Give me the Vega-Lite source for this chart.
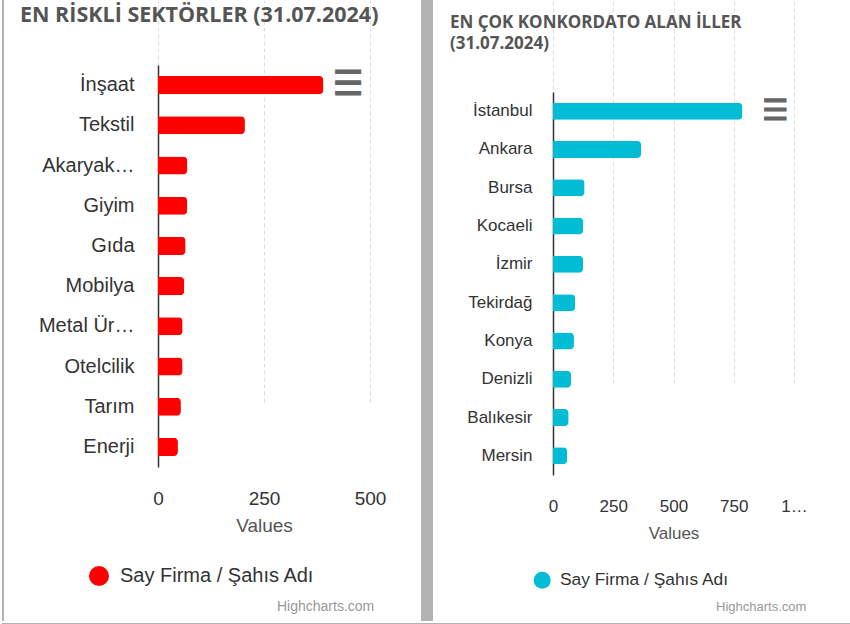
{
  "$schema": "https://vega.github.io/schema/vega-lite/v6.json",
  "padding": 0,
  "background": "white",
  "config": {"view": {"stroke": null}, "font": "Liberation Sans"},
  "spacing": 0,
  "vconcat": [
    {
      "spacing": 14,
      "resolve": {"scale": {"x": "independent", "y": "independent", "color": "independent", "shape": "independent"}, "legend": {"color": "independent", "shape": "independent"}},
      "hconcat": [
        {"width": 2, "height": 621, "data": {"values": [{}]}, "mark": {"type": "point", "opacity": 0}, "encoding": {}, "view": {"fill": "#b3b3b3", "stroke": null}},
        {
          "spacing": 35,
          "resolve": {"scale": {"x": "independent", "y": "independent", "color": "independent", "shape": "independent"}, "legend": {"color": "independent", "shape": "independent"}},
          "hconcat": [
            {
              "width": 212,
              "height": 467,
              "title": {"text": "EN RİSKLİ SEKTÖRLER (31.07.2024)", "anchor": "start", "frame": "group", "dx": -138, "font": "Open Sans", "fontSize": 21.5, "fontWeight": "bold", "color": "#555555", "offset": -26},
              "resolve": {"scale": {"color": "independent", "shape": "independent"}},
              "layer": [
                {
                  "data": {"values": [
                    {"sektor": "İnşaat", "deger": 390, "seri": "Say Firma / Şahıs Adı"},
                    {"sektor": "Tekstil", "deger": 205, "seri": "Say Firma / Şahıs Adı"},
                    {"sektor": "Akaryak…", "deger": 69, "seri": "Say Firma / Şahıs Adı"},
                    {"sektor": "Giyim", "deger": 69, "seri": "Say Firma / Şahıs Adı"},
                    {"sektor": "Gıda", "deger": 65, "seri": "Say Firma / Şahıs Adı"},
                    {"sektor": "Mobilya", "deger": 62, "seri": "Say Firma / Şahıs Adı"},
                    {"sektor": "Metal Ür…", "deger": 58, "seri": "Say Firma / Şahıs Adı"},
                    {"sektor": "Otelcilik", "deger": 58, "seri": "Say Firma / Şahıs Adı"},
                    {"sektor": "Tarım", "deger": 54, "seri": "Say Firma / Şahıs Adı"},
                    {"sektor": "Enerji", "deger": 47, "seri": "Say Firma / Şahıs Adı"}
                  ]},
                  "mark": {"type": "bar", "cornerRadiusEnd": 4},
                  "encoding": {
                    "y": {"field": "sektor", "type": "nominal", "sort": null, "scale": {"range": [65, 467], "paddingInner": 0.55, "paddingOuter": 0.275},
                      "axis": {"title": null, "domain": true, "domainColor": "#333333", "domainWidth": 1.5, "ticks": false, "grid": false, "labelFont": "Liberation Sans", "labelFontSize": 20, "labelColor": "#333333", "labelPadding": 24, "labelLimit": 300}},
                    "x": {"field": "deger", "type": "quantitative", "scale": {"domain": [0, 500], "nice": false},
                      "axis": {"title": "Values", "values": [0, 250, 500], "domain": false, "ticks": false, "grid": true, "gridDash": [4, 3], "gridColor": "#dddddd", "labelFont": "Liberation Sans", "labelFontSize": 19, "labelColor": "#333333", "labelPadding": 22, "labelFlush": false, "titleFont": "Liberation Sans", "titleFontSize": 19, "titleFontWeight": "normal", "titleColor": "#555555", "titlePadding": 8.5}},
                    "color": {"field": "seri", "type": "nominal", "scale": {"range": ["#ff0000"]},
                      "legend": {"orient": "none", "legendX": -69, "legendY": 566, "title": null, "symbolType": "circle", "symbolSize": 400, "symbolStrokeWidth": 0, "labelFont": "Liberation Sans", "labelFontSize": 20, "labelColor": "#333333", "labelOffset": 11, "labelLimit": 400}}
                  }
                },
                {
                  "data": {"values": [{}]},
                  "mark": {"type": "text", "font": "DejaVu Sans", "fontSize": 34, "fontWeight": "bold", "color": "#666666", "stroke": "#666666", "strokeWidth": 1.2, "align": "center", "baseline": "middle"},
                  "encoding": {"x": {"datum": 448}, "y": {"datum": "İnşaat"}, "text": {"value": "☰"}}
                },
                {
                  "data": {"values": [{"kaynak": "Highcharts.com"}]},
                  "mark": {"type": "point", "opacity": 0},
                  "encoding": {"shape": {"field": "kaynak", "type": "nominal",
                    "legend": {"orient": "none", "legendX": 105, "legendY": 600, "title": null, "symbolSize": 0, "symbolOpacity": 0, "symbolStrokeWidth": 0, "labelFont": "Liberation Sans", "labelFontSize": 14, "labelColor": "#999999", "labelOffset": 0, "labelLimit": 300}}}
                }
              ]
            },
            {
              "spacing": 17,
              "resolve": {"scale": {"x": "independent", "y": "independent", "color": "independent", "shape": "independent"}, "legend": {"color": "independent", "shape": "independent"}},
              "hconcat": [
                {"width": 12, "height": 621, "data": {"values": [{}]}, "mark": {"type": "point", "opacity": 0}, "encoding": {}, "view": {"fill": "#b3b3b3", "stroke": null}},
                {
                  "width": 241,
                  "height": 475,
                  "title": {"text": "EN ÇOK KONKORDATO ALAN İLLER", "subtitle": "(31.07.2024)", "anchor": "start", "frame": "group", "dx": -103, "font": "Open Sans", "fontSize": 17, "fontWeight": "bold", "color": "#555555", "subtitleFont": "Open Sans", "subtitleFontSize": 17, "subtitleFontWeight": "bold", "subtitleColor": "#555555", "subtitlePadding": 4, "offset": -53},
                  "resolve": {"scale": {"color": "independent", "shape": "independent"}},
                  "layer": [
                    {
                      "data": {"values": [
                        {"il": "İstanbul", "deger": 786, "seri": "Say Firma / Şahıs Adı"},
                        {"il": "Ankara", "deger": 366, "seri": "Say Firma / Şahıs Adı"},
                        {"il": "Bursa", "deger": 131, "seri": "Say Firma / Şahıs Adı"},
                        {"il": "Kocaeli", "deger": 125, "seri": "Say Firma / Şahıs Adı"},
                        {"il": "İzmir", "deger": 125, "seri": "Say Firma / Şahıs Adı"},
                        {"il": "Tekirdağ", "deger": 92, "seri": "Say Firma / Şahıs Adı"},
                        {"il": "Konya", "deger": 87, "seri": "Say Firma / Şahıs Adı"},
                        {"il": "Denizli", "deger": 75, "seri": "Say Firma / Şahıs Adı"},
                        {"il": "Balıkesir", "deger": 65, "seri": "Say Firma / Şahıs Adı"},
                        {"il": "Mersin", "deger": 59, "seri": "Say Firma / Şahıs Adı"}
                      ]},
                      "mark": {"type": "bar", "cornerRadiusEnd": 4},
                      "encoding": {
                        "y": {"field": "il", "type": "nominal", "sort": null, "scale": {"range": [92, 475], "paddingInner": 0.556, "paddingOuter": 0.278},
                          "axis": {"title": null, "domain": true, "domainColor": "#333333", "domainWidth": 1.5, "ticks": false, "grid": false, "labelFont": "Liberation Sans", "labelFontSize": 17, "labelColor": "#333333", "labelPadding": 21, "labelLimit": 300}},
                        "x": {"field": "deger", "type": "quantitative", "scale": {"domain": [0, 1000], "nice": false},
                          "axis": {"title": "Values", "values": [0, 250, 500, 750, 1000], "labelExpr": "datum.value == 1000 ? '1…' : datum.label", "domain": false, "ticks": false, "grid": true, "gridDash": [4, 3], "gridColor": "#dddddd", "labelFont": "Liberation Sans", "labelFontSize": 17, "labelColor": "#333333", "labelPadding": 23, "labelFlush": false, "titleFont": "Liberation Sans", "titleFontSize": 17, "titleFontWeight": "normal", "titleColor": "#555555", "titlePadding": 11}},
                        "color": {"field": "seri", "type": "nominal", "scale": {"range": ["#00bcd4"]},
                          "legend": {"orient": "none", "legendX": -19.5, "legendY": 571.5, "title": null, "symbolType": "circle", "symbolSize": 289, "symbolStrokeWidth": 0, "labelFont": "Liberation Sans", "labelFontSize": 17.4, "labelColor": "#333333", "labelOffset": 9, "labelLimit": 400}}
                      }
                    },
                    {
                      "data": {"values": [{}]},
                      "mark": {"type": "text", "font": "DejaVu Sans", "fontSize": 29, "fontWeight": "bold", "color": "#666666", "stroke": "#666666", "strokeWidth": 1.2, "align": "center", "baseline": "middle"},
                      "encoding": {"x": {"datum": 923}, "y": {"datum": "İstanbul"}, "text": {"value": "☰"}}
                    },
                    {
                      "data": {"values": [{"kaynak": "Highcharts.com"}]},
                      "mark": {"type": "point", "opacity": 0},
                      "encoding": {"shape": {"field": "kaynak", "type": "nominal",
                        "legend": {"orient": "none", "legendX": 150, "legendY": 600, "title": null, "symbolSize": 0, "symbolOpacity": 0, "symbolStrokeWidth": 0, "labelFont": "Liberation Sans", "labelFontSize": 13, "labelColor": "#999999", "labelOffset": 0, "labelLimit": 300}}}
                    }
                  ]
                }
              ]
            }
          ]
        }
      ]
    },
    {"width": 850, "height": 3, "data": {"values": [{}]}, "mark": {"type": "point", "opacity": 0}, "encoding": {}, "view": {"fill": "#b3b3b3", "stroke": null}}
  ]
}
